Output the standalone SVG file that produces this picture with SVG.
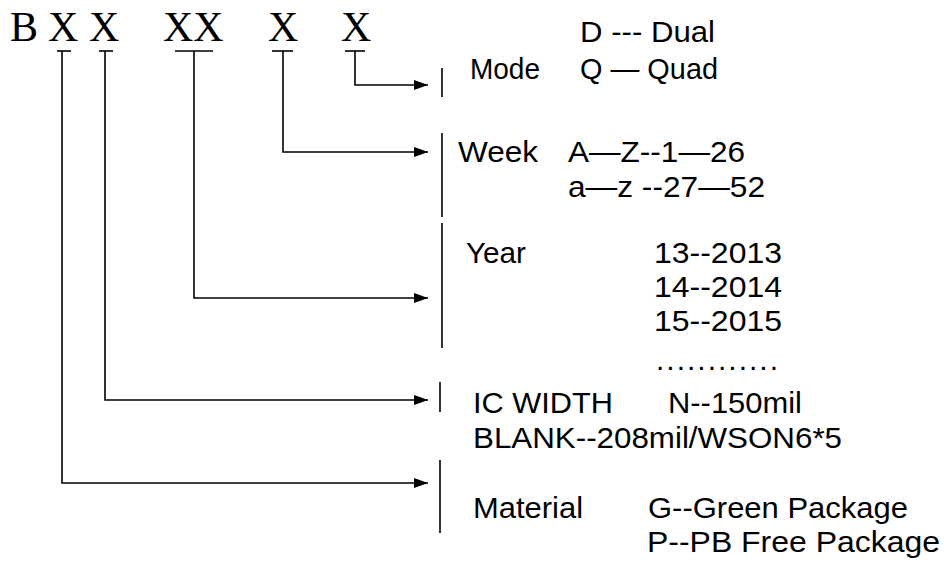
<svg xmlns="http://www.w3.org/2000/svg" width="944" height="563" viewBox="0 0 944 563">
<defs>
<marker id="ah" markerWidth="14" markerHeight="10" refX="14" refY="5" orient="auto" markerUnits="userSpaceOnUse">
<path d="M0,0 L14,5 L0,10 Z" fill="#000"/>
</marker>
<style>
.code{font-family:"Liberation Serif","Times New Roman",serif;font-size:42px;fill:#000}
.t{font-family:"Liberation Sans",Arial,sans-serif;font-size:30px;fill:#000}
.ln{fill:none;stroke:#000;stroke-width:1.6}
.bar{stroke:#000;stroke-width:1.6}
</style>
</defs>
<rect width="944" height="563" fill="#fff"/>
<g id="code">
<text class="code" x="10" y="41">B</text>
<text class="code" x="48" y="41">X</text>
<text class="code" x="89" y="41">X</text>
<text class="code" x="163" y="41">XX</text>
<text class="code" x="268" y="41">X</text>
<text class="code" x="341" y="41">X</text>
<line class="bar" x1="57" y1="51" x2="71" y2="51"/>
<line class="bar" x1="99" y1="51" x2="113" y2="51"/>
<line class="bar" x1="175" y1="51" x2="213" y2="51"/>
<line class="bar" x1="272" y1="51" x2="293" y2="51"/>
<line class="bar" x1="345" y1="51" x2="365" y2="51"/>
</g>
<g id="connectors">
<path class="ln" d="M355,51 V85 H428" marker-end="url(#ah)"/>
<path class="ln" d="M283,51 V152 H428" marker-end="url(#ah)"/>
<path class="ln" d="M194,51 V298 H428" marker-end="url(#ah)"/>
<path class="ln" d="M105,51 V400 H428" marker-end="url(#ah)"/>
<path class="ln" d="M62,51 V483 H428" marker-end="url(#ah)"/>
</g>
<g id="mode">
<line class="bar" x1="442" y1="68" x2="442" y2="97"/>
<text class="t" x="580" y="42" textLength="135" lengthAdjust="spacingAndGlyphs">D --- Dual</text>
<text class="t" x="470" y="79" textLength="70" lengthAdjust="spacingAndGlyphs">Mode</text>
<text class="t" x="580" y="79" textLength="138" lengthAdjust="spacingAndGlyphs">Q — Quad</text>
</g>
<g id="week">
<line class="bar" x1="442" y1="133" x2="442" y2="217"/>
<text class="t" x="458" y="162" textLength="80" lengthAdjust="spacingAndGlyphs">Week</text>
<text class="t" x="568" y="162" textLength="177" lengthAdjust="spacingAndGlyphs">A—Z--1—26</text>
<text class="t" x="568" y="197" textLength="197" lengthAdjust="spacingAndGlyphs">a—z --27—52</text>
</g>
<g id="year">
<line class="bar" x1="442" y1="223" x2="442" y2="348"/>
<text class="t" x="466" y="263" textLength="60" lengthAdjust="spacingAndGlyphs">Year</text>
<text class="t" x="654" y="263" textLength="128" lengthAdjust="spacingAndGlyphs">13--2013</text>
<text class="t" x="654" y="297" textLength="128" lengthAdjust="spacingAndGlyphs">14--2014</text>
<text class="t" x="654" y="331" textLength="128" lengthAdjust="spacingAndGlyphs">15--2015</text>
<text class="t" x="656" y="370" textLength="122" lengthAdjust="spacing">............</text>
</g>
<g id="icwidth">
<line class="bar" x1="440" y1="382" x2="440" y2="412"/>
<text class="t" x="473" y="413" textLength="140" lengthAdjust="spacingAndGlyphs">IC WIDTH</text>
<text class="t" x="668" y="413" textLength="134" lengthAdjust="spacingAndGlyphs">N--150mil</text>
<text class="t" x="473" y="448" textLength="369" lengthAdjust="spacingAndGlyphs">BLANK--208mil/WSON6*5</text>
</g>
<g id="material">
<line class="bar" x1="440" y1="460" x2="440" y2="533"/>
<text class="t" x="473" y="518" textLength="110" lengthAdjust="spacingAndGlyphs">Material</text>
<text class="t" x="648" y="518" textLength="260" lengthAdjust="spacingAndGlyphs">G--Green Package</text>
<text class="t" x="647" y="552" textLength="293" lengthAdjust="spacingAndGlyphs">P--PB Free Package</text>
</g>
</svg>
